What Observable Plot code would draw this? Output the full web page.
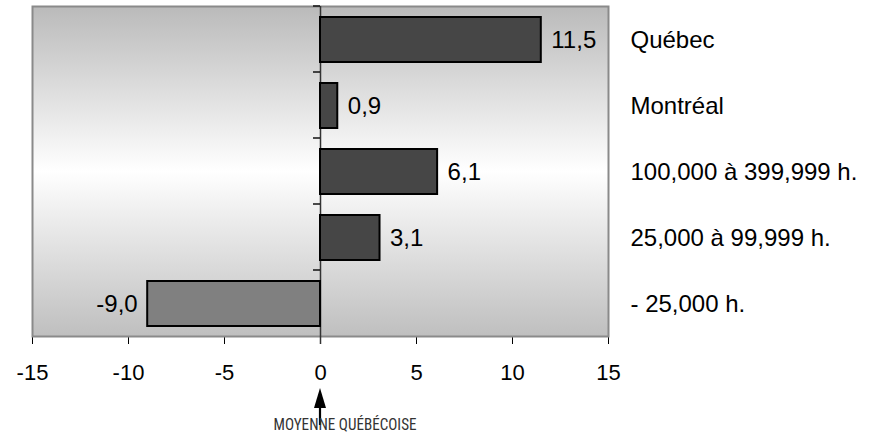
<!DOCTYPE html>
<html><head><meta charset="utf-8">
<script src="https://cdn.jsdelivr.net/npm/d3@7"></script>
<script src="https://cdn.jsdelivr.net/npm/@observablehq/plot@0.6"></script>
<style>
body{margin:0;background:#fff;}
svg{font-family:"Liberation Sans",Arial,sans-serif;}
</style>
</head><body><div id="chart"></div>
<script>
const categories = ["Québec", "Montréal", "100,000 à 399,999 h.", "25,000 à 99,999 h.", "- 25,000 h."];
const values = [11.5, 0.9, 6.1, 3.1, -9.0];
const xTicks = [-15, -10, -5, 0, 5, 10, 15];
const noteText = "MOYENNE QUÉBÉCOISE";

const data = categories.map((c, i) => ({category: c, value: values[i]}));
const fmt = v => d3.format(".1f")(v).replace(".", ",").replace("\u2212", "-");

// background panel with a vertical grey-white-grey gradient
const background = (index, scales, vals, dims) => {
  const g = d3.create("svg:g");
  const top = dims.marginTop, bottom = dims.height - dims.marginBottom;
  const left = dims.marginLeft, right = dims.width - dims.marginRight;
  const grad = g.append("defs").append("linearGradient")
    .attr("id", "bgGradV")
    .attr("gradientUnits", "userSpaceOnUse")
    .attr("x1", 0).attr("y1", top).attr("x2", 0).attr("y2", bottom);
  grad.append("stop").attr("offset", "0").attr("stop-color", "#bababa");
  grad.append("stop").attr("offset", "0.5").attr("stop-color", "#ffffff");
  grad.append("stop").attr("offset", "1").attr("stop-color", "#bfbfbf");
  g.append("rect").attr("x", left).attr("y", top).attr("width", right - left).attr("height", bottom - top)
    .attr("fill", "url(#bgGradV)");
  return g.node();
};

const decorations = (index, scales, vals, dims) => {
  const g = d3.create("svg:g");
  const x0 = scales.x(0);
  const top = dims.marginTop, bottom = dims.height - dims.marginBottom;
  const step = (bottom - top) / categories.length;
  for (let i = 0; i < categories.length; i++) {
    g.append("line").attr("x1", x0 - 7).attr("x2", x0).attr("y1", top + i * step).attr("y2", top + i * step)
      .attr("stroke", "#111").attr("stroke-width", 1.5);
  }
  // arrow pointing to the zero (average)
  g.append("line").attr("x1", x0).attr("x2", x0).attr("y1", bottom + 66).attr("y2", bottom + 89)
    .attr("stroke", "#000").attr("stroke-width", 2.2);
  g.append("path")
    .attr("d", `M${x0},${bottom + 52} L${x0 - 6},${bottom + 72} L${x0 + 6},${bottom + 72} Z`)
    .attr("fill", "#000");
  g.append("text").attr("x", x0 + 25).attr("y", bottom + 94)
    .attr("font-family", "'Liberation Sans Narrow','Roboto Condensed','DejaVu Sans Condensed',sans-serif")
    .attr("font-size", 16.5).attr("fill", "#333")
    .attr("textLength", 143).attr("lengthAdjust", "spacingAndGlyphs")
    .text(noteText);
  return g.node();
};

const plot = Plot.plot({
  width: 870,
  height: 434,
  marginLeft: 32,
  marginRight: 262,
  marginTop: 6,
  marginBottom: 98,
  style: {background: "transparent", fontFamily: "'Liberation Sans',Arial,sans-serif", fontSize: "22px", color: "#000"},
  x: {domain: [-15, 15], ticks: xTicks, tickFormat: d => String(d), tickSize: 8, tickPadding: 20, label: null},
  y: {domain: categories, paddingInner: 0.32, paddingOuter: 0.16, axis: null, label: null},
  marks: [
    background,
    Plot.frame({stroke: "#8a8a8a", strokeWidth: 2}),
    Plot.ruleX([0], {stroke: "#333", strokeWidth: 1.5, insetBottom: -8}),
    Plot.barX(data.filter(d => d.value >= 0), {x: "value", y: "category", fill: "#464646", stroke: "#000", strokeWidth: 2}),
    Plot.barX(data.filter(d => d.value < 0), {x: "value", y: "category", fill: "#808080", stroke: "#000", strokeWidth: 2}),
    Plot.text(data.filter(d => d.value >= 0), {x: "value", y: "category", text: d => fmt(d.value), dx: 10, textAnchor: "start", fontSize: 24, fill: "#000"}),
    Plot.text(data.filter(d => d.value < 0), {x: "value", y: "category", text: d => fmt(d.value), dx: -10, textAnchor: "end", fontSize: 24, fill: "#000"}),
    Plot.text(data, {y: "category", text: "category", frameAnchor: "right", dx: 22, textAnchor: "start", fontSize: 24, fill: "#000"}),
    decorations
  ]
});

d3.select(plot).selectAll("g[aria-label='x-axis'] line").attr("stroke", "#000");
document.getElementById("chart").appendChild(plot);
</script>
</body></html>
